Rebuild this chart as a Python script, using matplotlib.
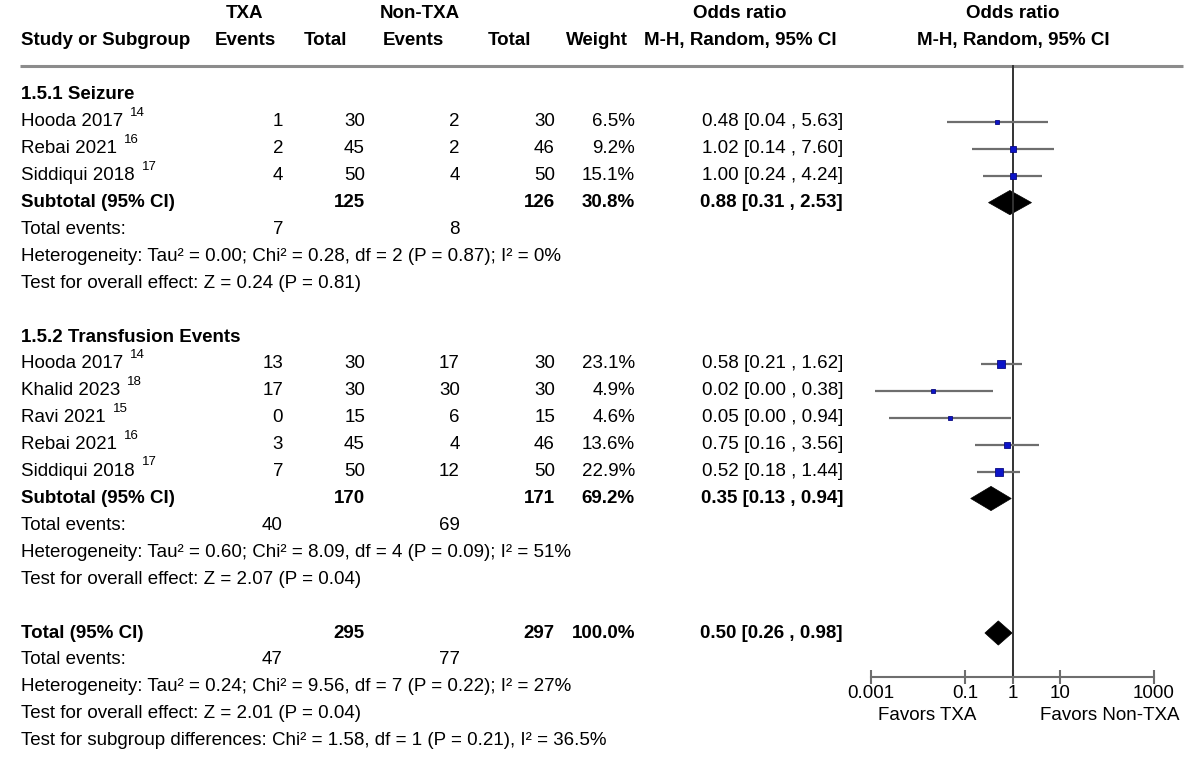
import numpy as np
import matplotlib
matplotlib.use("Agg")
import matplotlib.pyplot as plt
from matplotlib.patches import Polygon
from matplotlib.ticker import NullLocator

plt.rcParams['font.family'] = ['Liberation Sans', 'DejaVu Sans']

# 1.5.1 Seizure
seiz_study = ["Hooda 2017", "Rebai 2021", "Siddiqui 2018"]
seiz_ref = ["14", "16", "17"]
seiz_txa_ev = [1, 2, 4]
seiz_txa_n = [30, 45, 50]
seiz_ctl_ev = [2, 2, 4]
seiz_ctl_n = [30, 46, 50]
seiz_weight = [6.5, 9.2, 15.1]
seiz_or = [0.48, 1.02, 1.00]
seiz_lo = [0.04, 0.14, 0.24]
seiz_hi = [5.63, 7.60, 4.24]

# 1.5.2 Transfusion Events (lower limits of Khalid / Ravi)
trans_study = ["Hooda 2017", "Khalid 2023", "Ravi 2021", "Rebai 2021", "Siddiqui 2018"]
trans_ref = ["14", "18", "15", "16", "17"]
trans_txa_ev = [13, 17, 0, 3, 7]
trans_txa_n = [30, 30, 15, 45, 50]
trans_ctl_ev = [17, 30, 6, 4, 12]
trans_ctl_n = [30, 30, 15, 46, 50]
trans_weight = [23.1, 4.9, 4.6, 13.6, 22.9]
trans_or = [0.58, 0.021, 0.047, 0.75, 0.52]
trans_lo = [0.21, 0.0012, 0.0024, 0.16, 0.18]
trans_hi = [1.62, 0.38, 0.94, 3.56, 1.44]

# pooled rows: seizure subtotal, transfusion subtotal, overall total
sum_label = ["Subtotal (95% CI)", "Subtotal (95% CI)", "Total (95% CI)"]
sum_txa_n = [125, 170, 295]
sum_ctl_n = [126, 171, 297]
sum_weight = [30.8, 69.2, 100.0]
sum_or = [0.88, 0.35, 0.50]
sum_lo = [0.31, 0.13, 0.26]
sum_hi = [2.53, 0.94, 0.98]
sum_txa_ev = [7, 40, 47]
sum_ctl_ev = [8, 69, 77]
het_text = [
    "Heterogeneity: Tau² = 0.00; Chi² = 0.28, df = 2 (P = 0.87); I² = 0%",
    "Heterogeneity: Tau² = 0.60; Chi² = 8.09, df = 4 (P = 0.09); I² = 51%",
    "Heterogeneity: Tau² = 0.24; Chi² = 9.56, df = 7 (P = 0.22); I² = 27%",
]
effect_text = [
    "Test for overall effect: Z = 0.24 (P = 0.81)",
    "Test for overall effect: Z = 2.07 (P = 0.04)",
    "Test for overall effect: Z = 2.01 (P = 0.04)",
]
subgroup_text = "Test for subgroup differences: Chi² = 1.58, df = 1 (P = 0.21), I² = 36.5%"

ticks = [0.001, 0.1, 1, 10, 1000]

# layout (pixel columns, row units)
W, H = 1200, 759
ROW0, ROW_H = 95, 26.9
Y_TOP = -ROW0 / ROW_H
Y_BOT = (H - ROW0) / ROW_H
FS = 13.5
X_NAME, X_TEV, X_TN, X_CEV, X_CN, X_W, X_CI = 21, 283, 365, 460, 555, 635, 843
PLOT_L, PLOT_R = 871, 1154
RULE_ROW = (66 - ROW0) / ROW_H
AXIS_ROW = (677 - ROW0) / ROW_H
GREY = '#6e6e6e'

fig = plt.figure(figsize=(12, 7.59), dpi=100)
tab = fig.add_axes([0, 0, 1, 1])
tab.set_xlim(0, W)
tab.set_ylim(Y_BOT, Y_TOP)
tab.axis('off')

ax = fig.add_axes([PLOT_L / W, 0, (PLOT_R - PLOT_L) / W, 1])
ax.set_xscale('log')
ax.set_xlim(0.001, 1000)
ax.set_ylim(Y_BOT, Y_TOP)
ax.patch.set_visible(False)
for s in ['left', 'right', 'top']:
    ax.spines[s].set_visible(False)
ax.spines['bottom'].set_position(('data', AXIS_ROW))
ax.spines['bottom'].set_color(GREY)
ax.spines['bottom'].set_linewidth(1.5)
ax.set_yticks([])
ax.set_xticks(ticks)
ax.set_xticklabels(["0.001", "0.1", "1", "10", "1000"])
ax.xaxis.set_minor_locator(NullLocator())
ax.tick_params(axis='x', direction='inout', length=10, width=1.5, color=GREY,
               labelsize=FS, pad=1)


def put(x, r, s, ha='right', bold=False, size=FS):
    return tab.text(x, r, s, ha=ha, va='center', fontsize=size,
                    fontweight='bold' if bold else 'normal')


# header
put(245, (14 - ROW0) / ROW_H, "TXA", 'center', True)
put(420, (14 - ROW0) / ROW_H, "Non-TXA", 'center', True)
put(740, (14 - ROW0) / ROW_H, "Odds ratio", 'center', True)
put(1013, (14 - ROW0) / ROW_H, "Odds ratio", 'center', True)
hr = (41 - ROW0) / ROW_H
put(X_NAME, hr, "Study or Subgroup", 'left', True)
put(245, hr, "Events", 'center', True)
put(326, hr, "Total", 'center', True)
put(413, hr, "Events", 'center', True)
put(509, hr, "Total", 'center', True)
put(597, hr, "Weight", 'center', True)
put(740, hr, "M-H, Random, 95% CI", 'center', True)
put(1013, hr, "M-H, Random, 95% CI", 'center', True)
tab.plot([20, 1183], [RULE_ROW, RULE_ROW], color='#8c8c8c', lw=2.2, solid_capstyle='butt')

ax.plot([1, 1], [RULE_ROW, AXIS_ROW], color='#333333', lw=1.4, clip_on=False)


def study_rows(r0, names, refs, tev, tn, cev, cn, wt, orr, lo, hi):
    for i in range(len(names)):
        r = r0 + i
        t = put(X_NAME, r, names[i], 'left')
        tab.annotate(refs[i], xy=(1, 1), xycoords=t, xytext=(5, 0.5),
                     textcoords='offset points', fontsize=9.5, ha='left', va='center')
        put(X_TEV, r, str(tev[i]))
        put(X_TN, r, str(tn[i]))
        put(X_CEV, r, str(cev[i]))
        put(X_CN, r, str(cn[i]))
        put(X_W, r, f"{wt[i]:.1f}%")
        put(X_CI, r, f"{orr[i]:.2f} [{lo[i]:.2f} , {hi[i]:.2f}]")
        ax.plot([lo[i], hi[i]], [r, r], color=GREY, lw=1.6, solid_capstyle='butt')
        ax.plot(orr[i], r, marker='s', ms=1.25 * np.sqrt(wt[i]),
                mfc='#0c14c8', mec='#0a0a80', mew=0.6)


def pooled(k, r):
    put(X_NAME, r, sum_label[k], 'left', True)
    put(X_TN, r, str(sum_txa_n[k]), bold=True)
    put(X_CN, r, str(sum_ctl_n[k]), bold=True)
    put(X_W, r, f"{sum_weight[k]:.1f}%", bold=True)
    put(X_CI, r, f"{sum_or[k]:.2f} [{sum_lo[k]:.2f} , {sum_hi[k]:.2f}]", bold=True)
    h = 0.45
    ax.add_patch(Polygon([(sum_lo[k], r), (sum_or[k], r - h), (sum_hi[k], r), (sum_or[k], r + h)],
                         closed=True, facecolor='black', edgecolor='black', lw=0.5))
    put(X_NAME, r + 1, "Total events:", 'left')
    put(X_TEV, r + 1, str(sum_txa_ev[k]))
    put(X_CEV, r + 1, str(sum_ctl_ev[k]))
    put(X_NAME, r + 2, het_text[k], 'left')
    put(X_NAME, r + 3, effect_text[k], 'left')


put(X_NAME, 0, "1.5.1 Seizure", 'left', True)
study_rows(1, seiz_study, seiz_ref, seiz_txa_ev, seiz_txa_n, seiz_ctl_ev, seiz_ctl_n,
           seiz_weight, seiz_or, seiz_lo, seiz_hi)
pooled(0, 4)

put(X_NAME, 9, "1.5.2 Transfusion Events", 'left', True)
study_rows(10, trans_study, trans_ref, trans_txa_ev, trans_txa_n, trans_ctl_ev, trans_ctl_n,
           trans_weight, trans_or, trans_lo, trans_hi)
pooled(1, 15)

pooled(2, 20)
put(X_NAME, 24, subgroup_text, 'left')

fav_r = (715 - ROW0) / ROW_H
tab.text(927, fav_r, "Favors TXA", ha='center', va='center', fontsize=FS)
tab.text(1110, fav_r, "Favors Non-TXA", ha='center', va='center', fontsize=FS)

fig.savefig("out.png", dpi=100)
